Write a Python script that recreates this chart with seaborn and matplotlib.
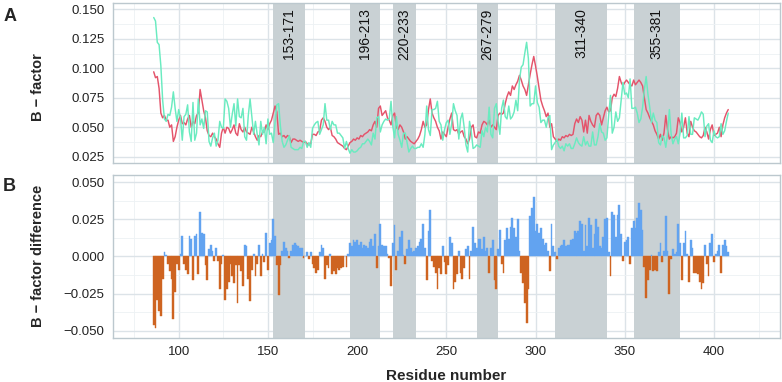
import numpy as np
import pandas as pd
import matplotlib
matplotlib.use("Agg")
import matplotlib.pyplot as plt
from matplotlib.ticker import MultipleLocator, FuncFormatter
import seaborn as sns

# residues 86..408, one value per residue
first_residue = 86

bfactor_red = [
    0.097, 0.092, 0.093, 0.083, 0.062, 0.058, 0.060, 0.056, 0.056, 0.050,  # 86
    0.052, 0.038, 0.042, 0.050, 0.056, 0.060, 0.053, 0.054, 0.052, 0.057,  # 96
    0.060, 0.050, 0.055, 0.053, 0.060, 0.062, 0.082, 0.073, 0.064, 0.058,  # 106
    0.047, 0.043, 0.042, 0.045, 0.042, 0.040, 0.036, 0.033, 0.045, 0.050,  # 116
    0.045, 0.050, 0.049, 0.045, 0.048, 0.052, 0.045, 0.043, 0.053, 0.048,  # 126
    0.046, 0.050, 0.046, 0.045, 0.044, 0.050, 0.046, 0.042, 0.039, 0.043,  # 136
    0.042, 0.046, 0.046, 0.052, 0.048, 0.053, 0.056, 0.062, 0.068, 0.063,  # 146
    0.044, 0.045, 0.042, 0.043, 0.041, 0.043, 0.042, 0.037, 0.040, 0.040,  # 156
    0.039, 0.038, 0.039, 0.038, 0.037, 0.038, 0.036, 0.035, 0.036, 0.044,  # 166
    0.044, 0.043, 0.046, 0.047, 0.056, 0.058, 0.055, 0.050, 0.048, 0.050,  # 176
    0.043, 0.042, 0.040, 0.037, 0.036, 0.035, 0.034, 0.032, 0.031, 0.034,  # 186
    0.037, 0.038, 0.040, 0.039, 0.041, 0.040, 0.043, 0.042, 0.044, 0.045,  # 196
    0.046, 0.048, 0.047, 0.052, 0.055, 0.050, 0.066, 0.068, 0.060, 0.062,  # 206
    0.064, 0.058, 0.056, 0.052, 0.060, 0.062, 0.050, 0.048, 0.052, 0.050,  # 216
    0.046, 0.040, 0.042, 0.040, 0.038, 0.037, 0.036, 0.038, 0.040, 0.043,  # 226
    0.048, 0.055, 0.050, 0.052, 0.065, 0.074, 0.062, 0.058, 0.055, 0.050,  # 236
    0.047, 0.040, 0.046, 0.044, 0.042, 0.050, 0.057, 0.062, 0.048, 0.047,  # 246
    0.048, 0.044, 0.046, 0.047, 0.042, 0.040, 0.036, 0.040, 0.050, 0.052,  # 256
    0.042, 0.041, 0.046, 0.045, 0.052, 0.055, 0.054, 0.052, 0.056, 0.050,  # 266
    0.052, 0.050, 0.048, 0.060, 0.062, 0.061, 0.062, 0.070, 0.076, 0.080,  # 276
    0.077, 0.085, 0.082, 0.086, 0.089, 0.094, 0.090, 0.085, 0.082, 0.077,  # 286
    0.086, 0.095, 0.103, 0.110, 0.102, 0.093, 0.083, 0.073, 0.068, 0.064,  # 296
    0.059, 0.062, 0.050, 0.053, 0.042, 0.040, 0.038, 0.040, 0.039, 0.042,  # 306
    0.041, 0.043, 0.042, 0.044, 0.043, 0.044, 0.053, 0.057, 0.054, 0.059,  # 316
    0.056, 0.046, 0.056, 0.045, 0.060, 0.055, 0.052, 0.050, 0.060, 0.062,  # 326
    0.060, 0.052, 0.058, 0.064, 0.067, 0.063, 0.064, 0.075, 0.078, 0.076,  # 336
    0.083, 0.093, 0.088, 0.085, 0.088, 0.090, 0.088, 0.086, 0.085, 0.090,  # 346
    0.086, 0.088, 0.090, 0.088, 0.085, 0.075, 0.065, 0.062, 0.058, 0.055,  # 356
    0.052, 0.047, 0.044, 0.040, 0.044, 0.039, 0.045, 0.060, 0.048, 0.040,  # 366
    0.042, 0.041, 0.042, 0.045, 0.058, 0.054, 0.046, 0.050, 0.058, 0.045,  # 376
    0.042, 0.055, 0.050, 0.047, 0.046, 0.044, 0.042, 0.041, 0.043, 0.050,  # 386
    0.046, 0.040, 0.048, 0.052, 0.043, 0.044, 0.045, 0.050, 0.042, 0.052,  # 396
    0.058, 0.062, 0.065,                                                   # 406
]

bfactor_teal = [
    0.143, 0.140, 0.122, 0.120, 0.102, 0.073, 0.057, 0.055, 0.061, 0.060,  # 86
    0.067, 0.080, 0.066, 0.055, 0.065, 0.058, 0.039, 0.059, 0.061, 0.069,  # 96
    0.046, 0.038, 0.071, 0.039, 0.045, 0.074, 0.052, 0.057, 0.049, 0.064,  # 106
    0.063, 0.038, 0.034, 0.041, 0.045, 0.034, 0.039, 0.055, 0.050, 0.049,  # 116
    0.074, 0.072, 0.066, 0.050, 0.061, 0.070, 0.051, 0.074, 0.059, 0.058,  # 126
    0.066, 0.042, 0.039, 0.060, 0.074, 0.059, 0.044, 0.055, 0.044, 0.035,  # 136
    0.055, 0.044, 0.050, 0.036, 0.057, 0.044, 0.045, 0.037, 0.054, 0.069,  # 146
    0.070, 0.051, 0.038, 0.033, 0.035, 0.039, 0.043, 0.033, 0.032, 0.031,  # 156
    0.031, 0.031, 0.033, 0.032, 0.038, 0.038, 0.033, 0.037, 0.033, 0.049,  # 166
    0.052, 0.054, 0.055, 0.044, 0.048, 0.052, 0.070, 0.056, 0.056, 0.048,  # 176
    0.055, 0.052, 0.052, 0.045, 0.045, 0.043, 0.041, 0.032, 0.038, 0.032,  # 186
    0.028, 0.031, 0.029, 0.029, 0.030, 0.032, 0.033, 0.036, 0.036, 0.038,  # 196
    0.040, 0.038, 0.035, 0.045, 0.040, 0.058, 0.059, 0.046, 0.052, 0.055,  # 206
    0.057, 0.056, 0.057, 0.072, 0.051, 0.041, 0.059, 0.044, 0.039, 0.033,  # 216
    0.045, 0.045, 0.037, 0.029, 0.032, 0.034, 0.032, 0.032, 0.033, 0.033,  # 226
    0.036, 0.033, 0.044, 0.068, 0.048, 0.043, 0.065, 0.065, 0.066, 0.072,  # 236
    0.055, 0.052, 0.039, 0.048, 0.054, 0.056, 0.044, 0.053, 0.070, 0.064,  # 246
    0.060, 0.040, 0.057, 0.062, 0.050, 0.035, 0.029, 0.055, 0.046, 0.032,  # 256
    0.033, 0.035, 0.034, 0.033, 0.047, 0.042, 0.050, 0.046, 0.067, 0.044,  # 266
    0.041, 0.066, 0.070, 0.055, 0.044, 0.066, 0.073, 0.059, 0.057, 0.068,  # 276
    0.057, 0.059, 0.063, 0.073, 0.064, 0.090, 0.101, 0.103, 0.113, 0.122,  # 286
    0.108, 0.068, 0.070, 0.070, 0.085, 0.071, 0.067, 0.054, 0.056, 0.056,  # 296
    0.050, 0.058, 0.060, 0.031, 0.035, 0.037, 0.040, 0.034, 0.032, 0.034,  # 306
    0.030, 0.036, 0.034, 0.036, 0.032, 0.032, 0.036, 0.041, 0.037, 0.035,  # 316
    0.034, 0.042, 0.035, 0.038, 0.034, 0.034, 0.046, 0.035, 0.035, 0.042,  # 326
    0.053, 0.046, 0.045, 0.039, 0.041, 0.060, 0.077, 0.045, 0.050, 0.063,  # 336
    0.055, 0.058, 0.073, 0.088, 0.078, 0.079, 0.075, 0.091, 0.066, 0.066,  # 346
    0.067, 0.062, 0.054, 0.057, 0.067, 0.082, 0.093, 0.078, 0.067, 0.054,  # 356
    0.062, 0.056, 0.054, 0.037, 0.035, 0.043, 0.041, 0.033, 0.044, 0.065,  # 366
    0.044, 0.036, 0.040, 0.042, 0.036, 0.045, 0.062, 0.041, 0.041, 0.043,  # 376
    0.059, 0.044, 0.044, 0.058, 0.057, 0.056, 0.059, 0.063, 0.061, 0.042,  # 386
    0.051, 0.053, 0.039, 0.037, 0.047, 0.042, 0.041, 0.042, 0.053, 0.044,  # 396
    0.047, 0.055, 0.062,                                                   # 406
]

bfactor_diff = [
    -0.046, -0.048, -0.029, -0.037, -0.040, -0.015, 0.003, 0.001, -0.005, -0.010,  # 86
    -0.015, -0.042, -0.024, -0.005, -0.009, 0.002, 0.014, -0.005, -0.009, -0.012,  # 96
    0.014, 0.012, -0.016, 0.014, 0.015, -0.012, 0.030, 0.016, 0.015, -0.006,  # 106
    -0.016, 0.005, 0.008, 0.004, -0.003, 0.006, -0.003, -0.022, -0.005, 0.001,  # 116
    -0.029, -0.022, -0.017, -0.005, -0.013, -0.018, -0.006, -0.031, -0.006, -0.010,  # 126
    -0.020, 0.008, 0.007, -0.015, -0.030, -0.009, 0.002, -0.013, -0.005, 0.008,  # 136
    -0.013, 0.002, -0.004, 0.016, -0.009, 0.009, 0.011, 0.025, 0.014, -0.006,  # 146
    -0.026, -0.006, 0.004, 0.010, 0.006, 0.004, -0.001, 0.004, 0.008, 0.009,  # 156
    0.008, 0.007, 0.006, 0.006, -0.001, 0.000, 0.003, -0.002, 0.003, -0.005,  # 166
    -0.008, -0.011, -0.009, 0.003, 0.008, 0.006, -0.015, -0.006, -0.008, 0.002,  # 176
    -0.012, -0.010, -0.012, -0.008, -0.009, -0.008, -0.007, 0.000, -0.007, 0.002,  # 186
    0.009, 0.007, 0.011, 0.010, 0.011, 0.008, 0.010, 0.006, 0.008, 0.007,  # 196
    0.006, 0.010, 0.012, 0.007, 0.015, -0.008, 0.007, 0.022, 0.008, 0.007,  # 206
    0.007, 0.002, -0.001, -0.020, 0.009, 0.021, -0.009, 0.004, 0.013, 0.017,  # 216
    0.001, -0.005, 0.005, 0.011, 0.006, 0.003, 0.004, 0.006, 0.007, 0.010,  # 226
    0.012, 0.022, 0.006, -0.016, 0.017, 0.031, -0.003, -0.007, -0.011, -0.022,  # 236
    -0.008, -0.012, 0.007, -0.004, -0.012, -0.006, 0.013, 0.009, -0.022, -0.017,  # 246
    -0.012, 0.004, -0.011, -0.015, -0.008, 0.005, 0.007, -0.015, 0.004, 0.020,  # 256
    0.009, 0.006, 0.012, 0.012, 0.005, 0.013, 0.004, 0.006, -0.011, 0.006,  # 266
    0.011, -0.016, -0.022, 0.005, 0.018, -0.005, -0.011, 0.011, 0.019, 0.012,  # 276
    0.020, 0.026, 0.019, 0.013, 0.025, 0.004, -0.011, -0.018, -0.031, -0.045,  # 286
    -0.022, 0.027, 0.033, 0.040, 0.017, 0.022, 0.016, 0.019, 0.012, 0.008,  # 296
    0.009, 0.004, -0.010, 0.022, 0.007, 0.003, -0.002, 0.006, 0.007, 0.008,  # 306
    0.011, 0.007, 0.008, 0.008, 0.011, 0.012, 0.017, 0.016, 0.017, 0.024,  # 316
    0.022, 0.004, 0.021, 0.007, 0.026, 0.021, 0.006, 0.015, 0.025, 0.020,  # 326
    0.007, 0.006, 0.013, 0.025, 0.026, 0.003, -0.013, 0.030, 0.028, 0.013,  # 336
    0.028, 0.035, 0.015, -0.003, 0.010, 0.011, 0.013, -0.005, 0.019, 0.024,  # 346
    0.019, 0.026, 0.036, 0.031, 0.018, -0.007, -0.028, -0.016, -0.009, 0.001,  # 356
    -0.010, -0.009, -0.010, 0.003, 0.009, -0.004, 0.004, 0.027, 0.004, -0.025,  # 366
    -0.002, 0.005, 0.002, 0.003, 0.022, 0.009, -0.016, 0.009, 0.017, 0.002,  # 376
    -0.017, 0.011, 0.006, -0.011, -0.011, -0.012, -0.017, -0.022, -0.018, 0.008,  # 386
    -0.005, -0.013, 0.009, 0.015, -0.004, 0.002, 0.004, 0.008, -0.011, 0.008,  # 396
    0.011, 0.007, 0.003,                                                   # 406
]

regions = [(153, 171), (196, 213), (220, 233), (267, 279), (311, 340), (355, 381)]

n = len(bfactor_red)
residue = np.arange(first_residue, first_residue + n)

lines = pd.DataFrame({
    "Residue": np.concatenate([residue, residue]),
    "B": bfactor_red + bfactor_teal,
    "state": ["red"] * n + ["teal"] * n,
})
bars = pd.DataFrame({"Residue": residue, "diff": bfactor_diff})
bars["sign"] = np.where(bars["diff"] >= 0, "pos", "neg")

sns.set_theme(style="white")
plt.rcParams["font.family"] = ["Liberation Sans", "DejaVu Sans"]

grid_major = "#DCE3E8"
grid_minor = "#EDF1F4"
shade = "#C9D1D4"
border = "#BCC8CE"
tick_col = "#222222"

fig = plt.figure(figsize=(7.82, 3.82), dpi=100)
ax1 = fig.add_axes([0.1441, 0.5733, 0.8533, 0.4188])
ax2 = fig.add_axes([0.1441, 0.1160, 0.8533, 0.4259])

sns.lineplot(data=lines, x="Residue", y="B", hue="state", hue_order=["red", "teal"],
             palette={"red": "#E4546B", "teal": "#6AEBC0"}, linewidth=1.05,
             legend=False, ax=ax1, zorder=3)

sns.barplot(data=bars, x="Residue", y="diff", hue="sign",
            palette={"pos": "#62A3F0", "neg": "#CE6421"}, native_scale=True,
            dodge=False, width=1.0, saturation=1, errorbar=None, legend=False,
            linewidth=0, ax=ax2, zorder=3)
# close the hairline gaps between neighbouring bars
for p in ax2.patches:
    p.set_edgecolor(p.get_facecolor())
    p.set_linewidth(0.3)

fmt = FuncFormatter(lambda v, p: f"{round(v, 4):.3f}".replace("-", "\u2212"))

for ax in (ax1, ax2):
    ax.set_xlim(63, 437)
    ax.xaxis.set_major_locator(MultipleLocator(50))
    ax.xaxis.set_minor_locator(MultipleLocator(25))
    ax.yaxis.set_major_locator(MultipleLocator(0.025))
    ax.yaxis.set_minor_locator(MultipleLocator(0.0125))
    ax.yaxis.set_major_formatter(fmt)
    ax.set_axisbelow(True)
    ax.grid(which="major", color=grid_major, linewidth=1.0)
    ax.grid(which="minor", color=grid_minor, linewidth=0.6)
    for a, b in regions:
        ax.axvspan(a, b, color=shade, lw=0, zorder=1)
    for sp in ax.spines.values():
        sp.set_color(border)
        sp.set_linewidth(1.0)
    ax.tick_params(which="minor", length=0)
    ax.tick_params(which="major", length=3.5, width=0.8, color=tick_col,
                   labelsize=9.5, labelcolor=tick_col, pad=2.5)
    ax.set_xlabel("")

ax1.set_ylim(0.0197, 0.1553)
ax2.set_ylim(-0.0547, 0.0549)
ax1.tick_params(axis="x", length=0, labelbottom=False)

for a, b in regions:
    ax1.text((a + b) / 2, 0.1508, f"{a}-{b}", rotation=90, ha="center", va="top",
             fontsize=10, color="#111111", zorder=4)

ax1.set_ylabel("B \u2212 factor", fontsize=10.5, fontweight="bold")
ax1.yaxis.set_label_coords(-0.101, 0.475)
ax2.set_ylabel("B \u2212 factor difference", fontsize=10.5, fontweight="bold")
ax2.yaxis.set_label_coords(-0.101, 0.5)
ax2.set_xlabel("Residue number", fontsize=11, fontweight="bold")
ax2.xaxis.set_label_coords(0.5, -0.19)

fig.text(0.004, 0.979, "A", fontsize=13, fontweight="bold", va="top", ha="left")
fig.text(0.004, 0.534, "B", fontsize=13, fontweight="bold", va="top", ha="left")

fig.savefig("out.png", dpi=100)
